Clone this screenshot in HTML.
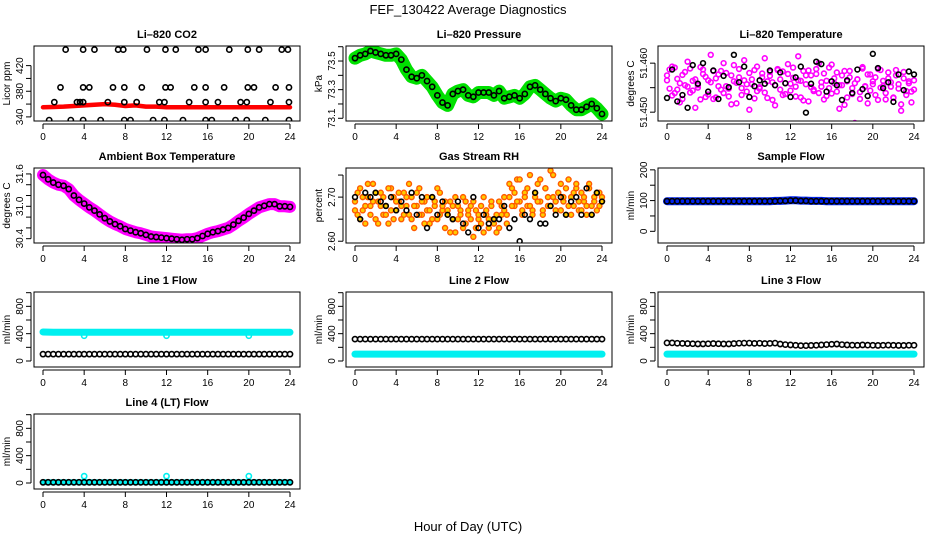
<!DOCTYPE html>
<html><head><meta charset="utf-8">
<style>
html,body{margin:0;padding:0;background:#fff;}
svg{display:block;font-family:"Liberation Sans",Arial,sans-serif;}
</style></head>
<body>
<svg id="chart" width="936" height="540" viewBox="0 0 936 540">
<text x="468" y="14" text-anchor="middle" font-size="13">FEF_130422  Average Diagnostics</text>
<text x="468" y="531" text-anchor="middle" font-size="13">Hour of Day (UTC)</text>
</svg>
<script>
// ---------- data ----------
const hourTicks = [0,4,8,12,16,20,24];

const co2TopX = [2.2,3.9,5,7.3,7.8,10.1,11.9,12.9,15.1,15.8,18.1,19.9,21,23.2,23.8];
const co2TopY = 445;
const co2HiX = [1.7,3.9,4.5,6.8,7.9,9.6,11.9,12.4,14.7,15.8,17.6,19.9,20.5,22.6,23.9];
const co2HiY = 386;
const co2MidX = [1.1,3.3,3.6,3.9,6.3,7.9,9.1,11.3,11.8,14.2,15.8,17,19.2,19.8,22.1,23.9];
const co2MidY = 363;
const co2LowX = [0.6,2.7,3.9,5.6,7.9,8.5,10.7,11.8,13.6,15.8,16.4,18.7,19.8,21.6,23.9];
const co2LowY = 335;
const co2Red = [355,355.5,356,357,358,359,360,359,357,358,356,356,355,355,355,355,355,355,355,355,355,355,355,355,355];

const pressure = [73.52,73.54,73.55,73.57,73.56,73.55,73.54,73.54,73.55,73.51,73.44,73.39,73.38,73.40,73.36,73.32,73.26,73.21,73.19,73.27,73.29,73.30,73.26,73.25,73.28,73.28,73.28,73.26,73.29,73.24,73.25,73.26,73.24,73.27,73.32,73.33,73.30,73.27,73.24,73.22,73.24,73.23,73.19,73.16,73.16,73.18,73.20,73.17,73.13];

// Li-820 temperature: deviations from 51.4555 in units of 1e-3
const liTempMag = [1.0,3.2,-2.1,3.6,-0.9,-3.5,2.1,0.0,4.8,-1.5,0.9,-4.6,-0.5,3.7,2.3,-2.4,1.0,6.2,-2.8,1.4,-0.2,2.9,-1.6,2.5,-0.7,-3.9,4.1,0.5,1.6,-2.0,5.1,0.2,-5.0,1.2,3.1,-1.2,-0.4,2.4,5.5,-2.6,1.9,0.6,-4.1,3.3,-0.9,2.8,-1.8,4.3,0.3,1.5,-2.3,5.9,0.9,-3.1,2.0,3.0,-0.4,-1.2,2.3,4.5,-0.3,-2.9,0.9,3.6,-1.7,0.4,2.6,-4.8,0.0,2.9,-2.5,1.6,-0.6,-7.7,1.2,-1.4,3.7,-0.2,-3.7,2.2,0.8,-2.0,3.3,-0.5,0.9,-2.9,2.6,-0.3,-2.6,3.1,0.2,-5.2,1.4,-1.2,0.4,-3.5,-0.9];
const liTempMag2 = [2.0,-0.7,3.8,-1.6,1.3,0.4,-2.8,2.7,-0.3,3.4,-1.1,1.2,0.0,-2.9,3.2,1.7,-1.9,0.6,2.9,-2.5,2.2,-0.9,4.5,-0.2,-2.3,2.0,0.8,-3.7,3.3,-0.6,1.0,-1.3,2.5,0.2,-2.7,3.8,-0.7,1.6,-1.5,0.8,2.7,-3.0,0.0,3.1,1.2,-2.0,0.4,2.3,-1.1,3.6,-0.3,1.0,-2.5,2.9,0.2,-3.3,2.0,-0.9,3.3,-1.6,0.6,2.4,-2.2,-0.6,4.2,1.4,-1.3,0.0,2.0,-4.0,0.8,2.9,-1.8,0.4,1.2,-2.8,3.4,-0.3,2.2,-1.1,0.2,1.6,-3.0,3.1,-0.2,-1.6,1.4,0.6,-2.5,2.0,-0.7,-3.9,2.7,-2.0,0.8,-1.3,1.0];
const liTempBlack = [-2.6,3.2,-3.3,-2.0,-4.6,4.1,0.3,4.5,-1.3,3.0,-2.8,1.9,-0.4,6.2,0.6,3.8,-2.4,-0.2,1.0,0.3,3.0,0.0,2.6,0.4,-2.4,1.6,3.8,-5.6,0.3,4.8,4.3,-1.3,0.8,0.0,-3.0,1.0,-1.6,3.2,-0.8,-2.2,6.4,3.5,-0.6,0.6,-3.4,2.2,-1.0,2.8,2.2];

const ambTemp = [31.58,31.5,31.44,31.4,31.38,31.32,31.2,31.12,31.05,30.98,30.92,30.85,30.78,30.72,30.67,30.63,30.58,30.55,30.52,30.5,30.47,30.44,30.43,30.42,30.41,30.40,30.39,30.38,30.39,30.39,30.41,30.45,30.49,30.52,30.54,30.57,30.6,30.66,30.73,30.79,30.86,30.92,30.98,31.01,31.04,31.04,31.0,31.0,30.99];

const rhOrange = [2.69,2.66,2.72,2.67,2.64,2.70,2.68,2.73,2.65,2.69,2.71,2.66,2.68,2.64,2.72,2.70,2.67,2.69,2.65,2.71,2.68,2.66,2.70,2.63,2.68,2.72,2.66,2.69,2.67,2.64,2.70,2.68,2.65,2.71,2.67,2.69,2.66,2.62,2.68,2.70,2.65,2.67,2.63,2.69,2.66,2.68,2.61,2.67,2.65,2.64,2.70,2.66,2.63,2.68,2.65,2.62,2.69,2.66,2.67,2.64,2.70,2.72,2.68,2.74,2.69,2.66,2.71,2.68,2.75,2.67,2.70,2.73,2.69,2.66,2.72,2.68,2.76,2.70,2.67,2.71,2.73,2.69,2.66,2.74,2.70,2.68,2.72,2.67,2.71,2.69,2.66,2.73,2.68,2.70,2.67,2.71,2.69];
const rhOrange2 = [2.67,2.71,2.65,2.70,2.68,2.73,2.66,2.69,2.71,2.64,2.68,2.70,2.66,2.72,2.67,2.65,2.69,2.71,2.68,2.66,2.70,2.73,2.65,2.68,2.71,2.66,2.69,2.64,2.70,2.67,2.65,2.69,2.72,2.66,2.68,2.63,2.67,2.69,2.65,2.62,2.68,2.66,2.70,2.64,2.67,2.65,2.69,2.63,2.66,2.68,2.62,2.67,2.65,2.69,2.64,2.66,2.63,2.68,2.70,2.66,2.73,2.68,2.71,2.69,2.74,2.67,2.70,2.72,2.68,2.66,2.71,2.69,2.74,2.67,2.72,2.70,2.68,2.75,2.69,2.71,2.67,2.70,2.72,2.68,2.66,2.71,2.73,2.69,2.67,2.70,2.68,2.72,2.66,2.69,2.71,2.68,2.70];
const rhBlack = [2.70,2.65,2.71,2.70,2.71,2.69,2.68,2.70,2.67,2.69,2.67,2.71,2.66,2.70,2.63,2.70,2.66,2.69,2.66,2.65,2.69,2.64,2.62,2.70,2.63,2.66,2.64,2.65,2.65,2.68,2.63,2.65,2.60,2.66,2.65,2.71,2.64,2.64,2.68,2.66,2.70,2.66,2.69,2.70,2.66,2.72,2.66,2.71,2.69];

const sampleBlue = [98,98,98,98,98,98,98,98,98,98,98,98,98,98,98,98,98,98,98,98,98,99,99,100,101,101,100,100,99,99,99,98,98,98,98,98,98,98,98,98,98,98,98,98,98,98,98,98,98];
const sampleBlack = [98,98,98,98,98,98,98,98,98,98,98,98,98,98,98,98,98,98,98,98,98,98,99,99,100,100,99,99,98,98,98,98,98,98,98,98,98,98,98,98,98,98,98,98,98,98,98,98,98];

const line1Cyan = [425,420,420,420,420,420,420,420,420,420,420,420,420,420,420,420,420,420,420,420,420,420,420,420,420];
const line1Black = [100,100,100,100,100,100,100,100,100,100,100,100,100,100,100,100,100,100,100,100,100,100,100,100,100,100,100,100,100,100,100,100,100,100,100,100,100,100,100,100,100,100,100,100,100,100,100,100,100];
const line1OutX = [4,12,20];
const line1OutY = [370,370,370];

const line2Cyan = [100,100,100,100,100,100,100,100,100,100,100,100,100,100,100,100,100,100,100,100,100,100,100,100,100];
const line2Black = [320,320,320,320,320,320,320,320,320,320,320,320,320,320,320,320,320,320,320,320,320,320,320,320,320,320,320,320,320,320,320,320,320,320,320,320,320,320,320,320,320,320,320,320,320,320,320,320,320];

const line3Cyan = [100,100,100,100,100,100,100,100,100,100,100,100,100,100,100,100,100,100,100,100,100,100,100,100,100];
const line3Black = [265,265,260,258,255,252,250,250,252,255,252,250,250,255,260,262,262,258,260,255,258,262,248,240,235,230,225,225,228,230,235,240,245,248,240,235,232,230,235,232,230,228,230,232,230,228,228,230,230];

const line4Cyan = [10,10,10,10,10,10,10,10,10,10,10,10,10,10,10,10,10,10,10,10,10,10,10,10,10];
const line4Black = [10,10,10,10,10,10,10,10,10,10,10,10,10,10,10,10,10,10,10,10,10,10,10,10,10,10,10,10,10,10,10,10,10,10,10,10,10,10,10,10,10,10,10,10,10,10,10,10,10];
const line4OutX = [4,12,20];
const line4OutY = [100,100,100];

// ---------- drawing helpers ----------
const NS = "http://www.w3.org/2000/svg";
const svg = document.getElementById('chart');
function mk(tag, attrs, parent){
  const e = document.createElementNS(NS, tag);
  for (const k in attrs) e.setAttribute(k, attrs[k]);
  (parent||svg).appendChild(e);
  return e;
}
function panel(name, left, top, ymin, ymax, title, ylab, yticks, ylabels){
  const W = 266, H = 75;
  const g = mk('g', {});
  
  
  const x0 = left + 9, x1 = left + W - 10;
  const sx = h => x0 + (h/24)*(x1-x0);
  const sy = v => top + H - (v-ymin)/(ymax-ymin)*H;
  const P = {g, sx, sy, top, left, W, H};
  const t = mk('text', {x: left+W/2, y: top-8, 'text-anchor':'middle', 'font-size':11, 'font-weight':'bold'}, g);
  t.textContent = title;
  
  
  const xa = mk('g', {}, g);
  
  
  mk('line', {x1:sx(0), x2:sx(24), y1:top+H+3, y2:top+H+3, stroke:'#000'}, xa);
  hourTicks.forEach(h => {
    mk('line', {x1:sx(h), x2:sx(h), y1:top+H+3, y2:top+H+8, stroke:'#000'}, xa);
    const l = mk('text', {x:sx(h), y:top+H+19, 'text-anchor':'middle', 'font-size':10}, xa);
    l.textContent = h;
  });
  const ya = mk('g', {}, g);
  
  
  mk('line', {x1:left-3, x2:left-3, y1:sy(yticks[0]), y2:sy(yticks[yticks.length-1]), stroke:'#000'}, ya);
  yticks.forEach(v => {
    mk('line', {x1:left-3, x2:left-8, y1:sy(v), y2:sy(v), stroke:'#000'}, ya);
  });
  ylabels.forEach(v => {
    const l = mk('text', {x:left-11, y:sy(v), 'text-anchor':'middle', 'font-size':10, transform:`rotate(-90 ${left-11} ${sy(v)})`}, ya);
    l.textContent = v;
  });
  const yt = mk('text', {x:left-24, y:top+H/2, 'text-anchor':'middle', 'font-size':10, transform:`rotate(-90 ${left-24} ${top+H/2})`}, g);
  yt.textContent = ylab;
  
  
  const cid = 'clip-' + name;
  const cp = mk('clipPath', {id:cid}, g);
  mk('rect', {x:left, y:top, width:W, height:H}, cp);
  P.plot = mk('g', {'clip-path':`url(#${cid})`}, g);
  P.finish = () => {
    const b = mk('rect', {x:left, y:top, width:W, height:H, fill:'none', stroke:'#000'}, g);
    
    
  };
  return P;
}
function band(P, vals, color, width, name){
  const pts = vals.map((v,i) => `${P.sx(i*24/(vals.length-1))},${P.sy(v)}`).join(' ');
  const pl = mk('polyline', {points:pts, fill:'none', stroke:color, 'stroke-width':width, 'stroke-linecap':'round', 'stroke-linejoin':'round'}, P.plot);
  
  
}
function pts(P, xs, ys, color, name, fill, r, sw){
  const g = mk('g', {}, P.plot);
  
  
  ys.forEach((v,i) => {
    const h = xs ? xs[i] : i*24/(ys.length-1);
    mk('circle', {cx:P.sx(h), cy:P.sy(v), r:r||2.6, fill:fill||'none', stroke:color, 'stroke-width':sw||1.6}, g);
  });
}
function ptsConst(P, xs, y, color, name){
  pts(P, xs, xs.map(() => y), color, name);
}

const colL = [34, 346, 658];
const rowT = [46, 168, 292, 414];

// Li-820 CO2
let P = panel('co2', colL[0], rowT[0], 333.6, 450.6, 'Li–820 CO2', 'Licor ppm', [340,360,380,400,420], [340,380,420]);
band(P, co2Red, '#ff0000', 4.5, 'co2-red-series');
ptsConst(P, co2TopX, co2TopY, '#000', 'co2-points-top');
ptsConst(P, co2HiX, co2HiY, '#000', 'co2-points-high');
ptsConst(P, co2MidX, co2MidY, '#000', 'co2-points-mid');
ptsConst(P, co2LowX, co2LowY, '#000', 'co2-points-low');
P.finish();

// Pressure
P = panel('pressure', colL[1], rowT[0], 73.081, 73.605, 'Li–820 Pressure', 'kPa', [73.1,73.2,73.3,73.4,73.5,73.6], ['73.1','73.3','73.5']);
band(P, pressure, '#00e000', 13, 'pressure-green-series');
pts(P, null, pressure, '#000', 'pressure-black-points');
P.finish();

// Li-820 Temperature
P = panel('li820-temp', colL[2], rowT[0], 51.4482, 51.4635, 'Li–820 Temperature', 'degrees C', [51.450,51.455,51.460], ['51.450','51.460']);
pts(P, null, liTempMag.map(v => 51.4555 + v/1000), '#ff00ff', 'li820-temp-magenta-points', 'none', 2.4);
pts(P, null, liTempMag2.map(v => 51.4555 + v/1000), '#ff00ff', 'li820-temp-magenta-points-2', 'none', 2.4);
pts(P, null, liTempBlack.map(v => 51.4555 + v/1000), '#000', 'li820-temp-black-points', 'none', 2.4);
P.finish();

// Ambient box temp
P = panel('ambient-temp', colL[0], rowT[1], 30.32, 31.71, 'Ambient Box Temperature', 'degrees C', [30.4,30.6,30.8,31.0,31.2,31.4,31.6], ['30.4','31.0','31.6']);
band(P, ambTemp, '#ff00ff', 12, 'ambient-temp-magenta-series');
pts(P, null, ambTemp, '#000', 'ambient-temp-black-points');
P.finish();

// Gas stream RH
P = panel('gas-rh', colL[1], rowT[1], 2.596, 2.766, 'Gas Stream RH', 'percent', [2.60,2.65,2.70,2.75], ['2.60','2.70']);
pts(P, null, rhOrange, '#ff5a00', 'rh-orange-points', '#ffcc00', 2.5, 1.4);
pts(P, null, rhOrange2, '#ff5a00', 'rh-orange-points-2', '#ffcc00', 2.5, 1.4);
pts(P, null, rhBlack, '#000', 'rh-black-points', 'none', 2.4);
P.finish();

// Sample Flow
P = panel('sample-flow', colL[2], rowT[1], -38, 206, 'Sample Flow', 'ml/min', [0,50,100,150,200], [0,100,200]);
band(P, sampleBlue, '#0022ee', 8, 'sample-flow-blue-series');
pts(P, null, sampleBlack, '#000', 'sample-flow-black-points');
P.finish();

const flowTicks = [0,200,400,600,800,1000];
const flowLabels = [0,400,800];
P = panel('line1-flow', colL[0], rowT[2], -88, 1010, 'Line 1 Flow', 'ml/min', flowTicks, flowLabels);
band(P, line1Cyan, '#00f0f0', 7, 'line1-cyan-series');
pts(P, line1OutX, line1OutY, '#00f0f0', 'line1-cyan-outliers');
pts(P, null, line1Black, '#000', 'line1-black-points');
P.finish();

P = panel('line2-flow', colL[1], rowT[2], -88, 1010, 'Line 2 Flow', 'ml/min', flowTicks, flowLabels);
band(P, line2Cyan, '#00f0f0', 7, 'line2-cyan-series');
pts(P, null, line2Black, '#000', 'line2-black-points');
P.finish();

P = panel('line3-flow', colL[2], rowT[2], -88, 1010, 'Line 3 Flow', 'ml/min', flowTicks, flowLabels);
band(P, line3Cyan, '#00f0f0', 7, 'line3-cyan-series');
pts(P, null, line3Black, '#000', 'line3-black-points');
P.finish();

P = panel('line4-flow', colL[0], rowT[3], -88, 1010, 'Line 4 (LT) Flow', 'ml/min', flowTicks, flowLabels);
band(P, line4Cyan, '#00f0f0', 6, 'line4-cyan-series');
pts(P, line4OutX, line4OutY, '#00f0f0', 'line4-cyan-outliers');
pts(P, null, line4Black, '#000', 'line4-black-points');
P.finish();
</script>
</body></html>
